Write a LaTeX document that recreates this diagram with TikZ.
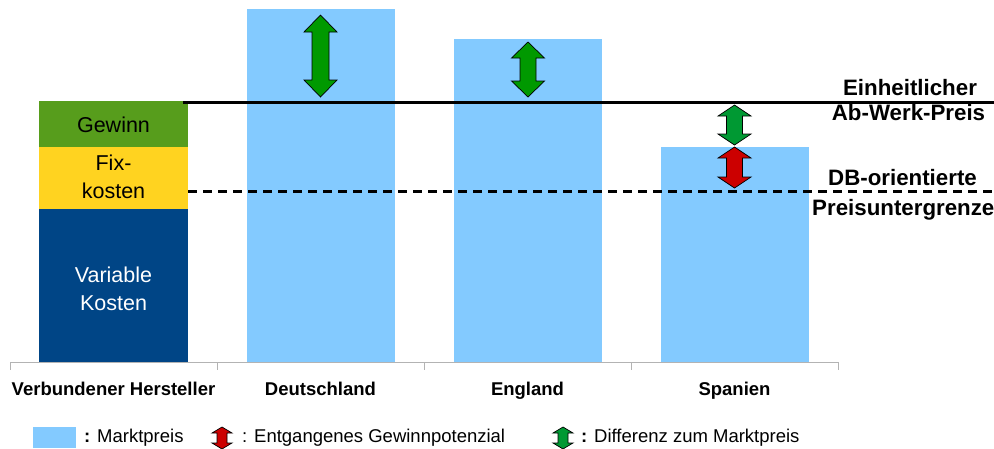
\documentclass[tikz,border=0pt]{standalone}
\usepackage{fontspec}
\setmainfont{Liberation Sans}
\definecolor{lblue}{RGB}{131,202,255}
\definecolor{dblue}{RGB}{0,69,134}
\definecolor{gewgreen}{RGB}{87,157,28}
\definecolor{fixyellow}{RGB}{255,211,32}
\definecolor{arrgreen}{RGB}{0,153,0}
\definecolor{arrgreenb}{RGB}{0,153,51}
\definecolor{arrred}{RGB}{204,0,0}
\definecolor{axisgrey}{RGB}{179,179,179}
\newcommand\darr[7]{%
  \filldraw[fill=#7, draw=black, line width=0.7pt, line join=miter]
    (#1,#2) -- (#1+#4,#2+#6) -- (#1+#5,#2+#6) -- (#1+#5,#3-#6) -- (#1+#4,#3-#6)
    -- (#1,#3) -- (#1-#4,#3-#6) -- (#1-#5,#3-#6) -- (#1-#5,#2+#6) -- (#1-#4,#2+#6) -- cycle;}
\tikzset{
  bartext/.style={anchor=base, inner sep=0pt, font=\fontsize{21.5}{24}\selectfont},
  cattext/.style={anchor=base, inner sep=0pt, font=\fontsize{18.5}{22}\selectfont\bfseries},
  reftext/.style={anchor=base, inner sep=0pt, font=\fontsize{22.3}{25}\selectfont\bfseries},
  legtext/.style={anchor=base west, inner sep=0pt, font=\fontsize{18.5}{22}\selectfont},
}
\begin{document}
\begin{tikzpicture}[x=1pt,y=-1pt]
\useasboundingbox (0,0) rectangle (994,448);
% bars
\fill[dblue] (39,209) rectangle (188,362);
\fill[fixyellow] (39,147) rectangle (188,209);
\fill[gewgreen] (39,101) rectangle (188,147);
\fill[lblue] (247,9) rectangle (395,362);
\fill[lblue] (454,39) rectangle (602,362);
\fill[lblue] (661,147) rectangle (809,362);
% axis
\draw[axisgrey, line width=1pt] (10,362) -- (838,362);
\foreach \x in {10,217,424,631,838} \draw[axisgrey, line width=1pt] (\x,362) -- (\x,370);
% texts in stacked bar
\node[bartext] (gew) at (113.5,132) {Gewinn};
\node[bartext] (fix1) at (113.5,170) {Fix-};
\node[bartext] (fix2) at (113.5,198) {kosten};
\node[bartext, text=white] (var1) at (113.5,282) {Variable};
\node[bartext, text=white] (var2) at (113.5,310) {Kosten};
% categories
\node[cattext] (c1) at (113.5,395) {Verbundener Hersteller};
\node[cattext] (c2) at (320.5,395) {Deutschland};
\node[cattext] (c3) at (527.5,395) {England};
\node[cattext] (c4) at (734.5,395) {Spanien};
% lines
\coordinate (s1) at (183,102.5);
\coordinate (s2) at (994,102.5);
\draw[black, line width=3.5pt] (s1) -- (s2);
\coordinate (d1) at (188,191);
\coordinate (d2) at (994,191);
\draw[black, line width=3pt, dash pattern=on 9pt off 6pt] (d1) -- (d2);
% reference labels
\node[reftext] (r1) at (910,95) {Einheitlicher};
\node[reftext] (r2) at (908.5,120) {Ab-Werk-Preis};
\node[reftext] (r3) at (902.5,185) {DB-orientierte};
\node[reftext, anchor=base west] (r4) at (812,215) {Preisuntergrenze};
% arrows
\darr{320.5}{15}{97}{16.5}{8.5}{17}{arrgreen}
\darr{528}{42}{97}{16.5}{8}{16}{arrgreen}
\darr{734.5}{105}{145}{16.5}{8}{11}{arrgreenb}
\darr{734.5}{147}{188}{16.5}{8}{11}{arrred}
% legend
\fill[lblue] (33,427) rectangle (76,448);
\node[legtext] (l1) at (84,442) {\textbf{:} Marktpreis};
\darr{222}{427}{449}{10}{5}{6}{arrred}
\node[legtext] (l2) at (242,442) {: Entgangenes Gewinnpotenzial};
\darr{563}{427}{449}{10}{5}{6}{arrgreenb}
\node[legtext] (l3) at (581,442) {\textbf{:} Differenz zum Marktpreis};
\end{tikzpicture}
\end{document}
